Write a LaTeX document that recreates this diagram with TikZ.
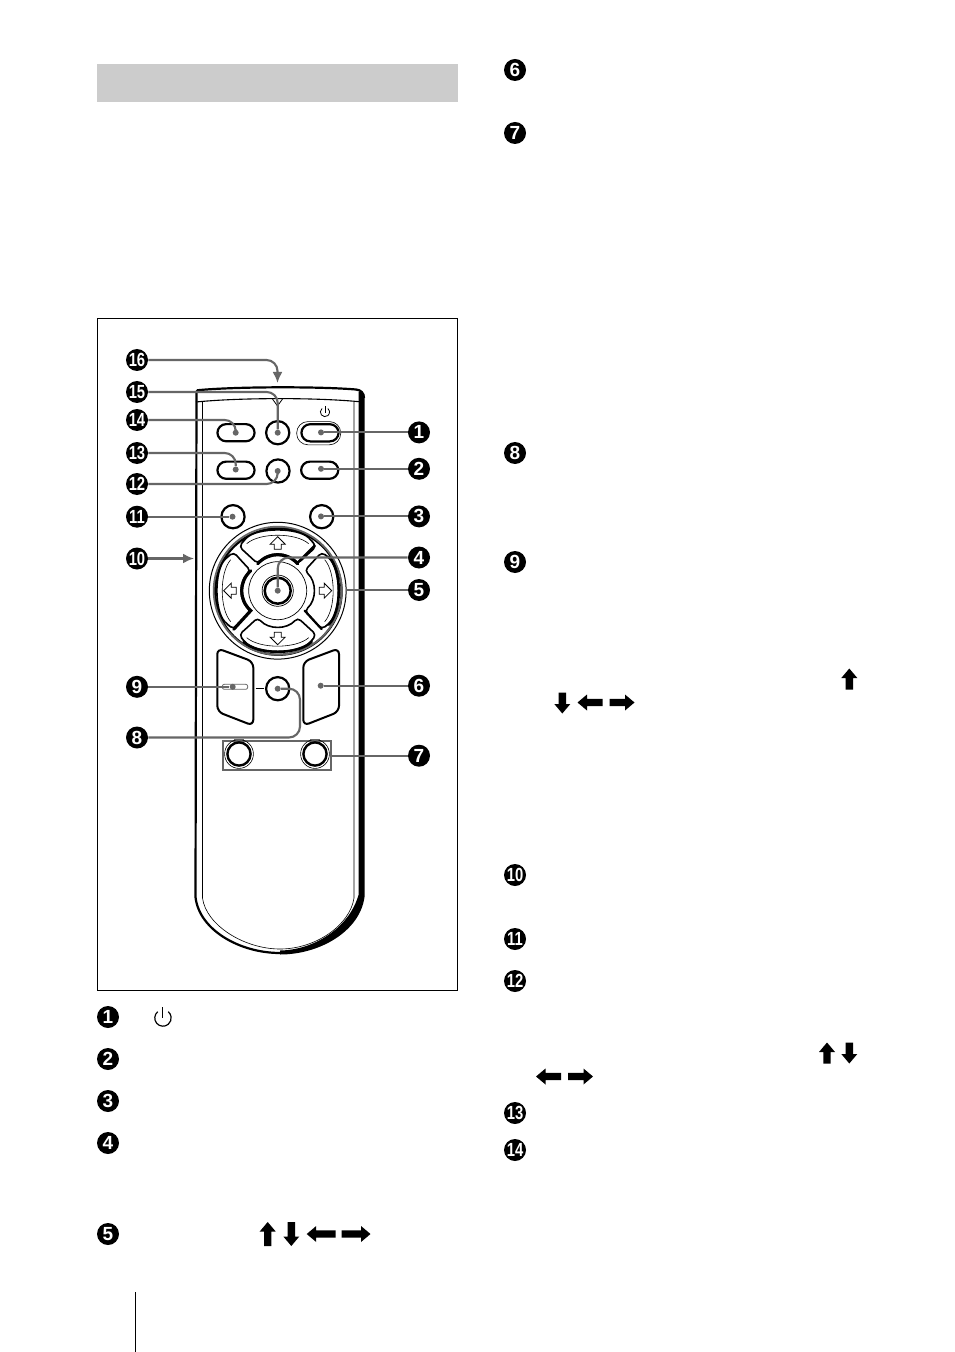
\documentclass[tikz,border=0pt]{standalone}
\usepackage{fontspec}
\setmainfont{Liberation Sans}
\usetikzlibrary{arrows.meta}
\definecolor{leadgray}{gray}{0.40}
\definecolor{bandgray}{gray}{0.80}
\tikzset{
  numc/.style={circle,fill=black,text=white,inner sep=0pt,minimum size=11pt,font=\fontsize{9.5}{9.5}\selectfont\bfseries},
  lead/.style={draw=leadgray,line width=1.05pt,rounded corners=5.5pt},
  leaddot/.style={circle,fill=leadgray,inner sep=0pt,minimum size=3pt},
  pillbtn/.style={draw=black,fill=white,line width=1.1pt,rounded corners=4.4pt,minimum width=18.6pt,minimum height=8.6pt,inner sep=0pt},
  roundbtn/.style={circle,draw=black,fill=white,line width=1.1pt,inner sep=0pt,minimum size=11.6pt},
  thinline/.style={draw=black,line width=0.3pt},
  bodyline/.style={draw=black,line width=1.1pt},
  hollowarr/.style={draw=black,line width=0.4pt,fill=white,line join=miter},
  dialbtn/.style={draw=black,fill=white,line width=0.8pt,rounded corners=2pt},
  rockerbtn/.style={draw=black,fill=white,line width=1pt,rounded corners=3pt},
}
\newcommand{\Nn}[1]{\scalebox{0.78}[1]{#1}}
\newcommand{\fatarrow}[4]{%
  \begin{scope}[shift={(#1,#2)},rotate=#3]
    \fill[black] (0,-#4/2) -- (8,-#4/2+9.5) -- (3.7,-#4/2+9.5) -- (3.7,#4/2) -- (-3.7,#4/2) -- (-3.7,-#4/2+9.5) -- (-8,-#4/2+9.5) -- cycle;
  \end{scope}}
\begin{document}
\begin{tikzpicture}[x=0.5pt,y=-0.5pt]
\useasboundingbox (0,0) rectangle (954,1352);
\fill[white] (0,0) rectangle (954,1352);
% page furniture
\node[fill=bandgray,minimum width=180.5pt,minimum height=19pt,inner sep=0pt,anchor=north west] (band) at (97,64) {};
\node[draw=black,line width=0.35pt,minimum width=180pt,minimum height=336.3pt,inner sep=0pt,anchor=north west] (frame) at (97.2,317.7) {};
\draw[black,line width=0.4pt] (135.5,1292) -- (135.5,1352);

% remote body
\fill[black] (358.5,392) -- (362,392) -- (364.5,397) -- (364.5,897) .. controls (360,931) and (320,954.5) .. (280,954.5) -- (280,950.5) .. controls (314,950) and (349,928) .. (358.5,895) -- cycle;
\draw[bodyline] (196.5,392) .. controls (197,390) and (198,390) .. (200,390) .. controls (240,386.5) and (320,386.5) .. (356,389.5) .. controls (361,390) and (364,393) .. (364,398);
\draw[bodyline] (196.5,391) -- (195.5,897) .. controls (199,930) and (240,953) .. (280,953);
\draw[black,line width=0.55pt] (196,402) .. controls (240,397.5) and (320,397.5) .. (362,402);
\draw[thinline] (202.5,402) -- (202.5,898) .. controls (206,925) and (244,949) .. (280,949) .. controls (316,949) and (350,925) .. (354,898) -- (354,402);
\draw[black,line width=0.4pt] (272.5,399) -- (277.5,406) -- (282.5,399);

% top buttons
\node[pillbtn] (b14) at (236,432.7) {};
\node[roundbtn] (b15) at (277.7,432.7) {};
\node[draw=black,line width=0.3pt,fill=white,rounded corners=5.6pt,minimum width=22pt,minimum height=11.6pt,inner sep=0pt] (b1o) at (318.7,433.2) {};
\node[pillbtn] (b1) at (320,432.8) {};
\node[pillbtn] (b13) at (236,470.2) {};
\node[roundbtn] (b12) at (278,471) {};
\node[pillbtn] (b2) at (319.7,470.2) {};
\node[roundbtn] (b11) at (233,516.7) {};
\node[roundbtn] (b3) at (321.7,516.7) {};
\draw[black,line width=0.4pt] (322,408.5) arc[start angle=130,end angle=410,radius=2.3pt];
\draw[black,line width=0.4pt] (325,406) -- (325,412.5);

% dial
\begin{scope}[shift={(277.7,590.7)}]
  \draw[black,line width=0.5pt] (0,0) circle[radius=34.2pt];
  \draw[black,line width=1.1pt] (0.7,0.9) circle[radius=31.6pt];
  \draw[leadgray,line width=0.9pt] (0,0) circle[radius=32pt];
  \foreach \a in {0,90,180,270}{
    \begin{scope}[rotate=\a]
      \draw[dialbtn] (29,-35.5) -- (20,-27) .. controls (9,-39) and (-9,-39) .. (-20,-27) -- (-38.5,-44) -- (-34,-50) .. controls (-20,-63.5) and (20,-63.5) .. (34,-50) -- (38.5,-44) -- cycle;
      \draw[thinline] (-31,-47) .. controls (-18,-58.3) and (18,-58.3) .. (31,-47);
      \draw[hollowarr] (0,-54) -- (7.5,-46.5) -- (3.5,-46.5) -- (3.5,-41.5) -- (-3.5,-41.5) -- (-3.5,-46.5) -- (-7.5,-46.5) -- cycle;
    \end{scope}}
  % heavy edges
  \draw[black,line width=1.6pt,line cap=round] (-20,-27) .. controls (-9,-39) and (9,-39) .. (20,-27);
  \draw[black,line width=1.6pt,line cap=round] (-27,-20) .. controls (-39,-9) and (-39,9) .. (-27,20) -- (-44,38.5);
  \draw[black,line width=1.3pt,line cap=round] (-34,51) .. controls (-20,64.5) and (20,64.5) .. (34,51);
  \draw[black,line width=1.3pt,line cap=round] (37,-45) -- (20,-28);
  \draw[black,line width=1.3pt,line cap=round] (51,34) .. controls (64.5,20) and (64.5,-20) .. (51,-34);
  \draw[black,line width=1.1pt,line cap=round] (44,38.5) -- (27,20);
  \node[circle,draw=black,line width=0.35pt,inner sep=0pt,minimum size=29pt] (dialmid) at (0,0) {};
  \node[circle,draw=black,line width=0.35pt,inner sep=0pt,minimum size=15.6pt] (dialring) at (0,0) {};
  \node[circle,draw=black,fill=white,line width=1.25pt,inner sep=0pt,minimum size=13pt] (b4) at (0,0) {};
\end{scope}

% rockers
\draw[rockerbtn] (217.3,680) -- (217.3,648.3) -- (253.3,661.7) -- (253.3,725.7) -- (217.3,711.7) -- cycle;
\draw[rockerbtn] (303.3,690) -- (303.3,661.7) -- (339,648.3) -- (339,711.7) -- (303.3,725.7) -- cycle;
\node[draw=leadgray,fill=white,line width=0.4pt,rounded corners=1pt,minimum width=12.7pt,minimum height=2.5pt,inner sep=0pt] (slot) at (235,686.8) {};
\draw[black,line width=0.75pt] (255.7,688.7) -- (264,688.7);
\node[roundbtn] (b8) at (277.7,688.7) {};

% box 7
\node[draw=leadgray,line width=1pt,minimum width=54pt,minimum height=14.7pt,inner sep=0pt] (box7) at (276.7,755.4) {};
\foreach \nm/\x in {b7a/239,b7b/315}{
  \node[circle,draw=black,line width=0.3pt,inner sep=0pt,minimum size=14.4pt] (\nm o) at (\x,754) {};
  \node[circle,draw=black,line width=1.2pt,inner sep=0pt,minimum size=11.6pt] (\nm) at (\x,754) {};
  \draw[leadgray,line width=0.3pt] (\x-5,739.2) -- (\x+5,739.2);
}

% number badges
\node[numc] (n16) at (137,360) {\Nn{16}};
\node[numc] (n15) at (137,392) {\Nn{15}};
\node[numc] (n14) at (137,420) {\Nn{14}};
\node[numc] (n13) at (137,453) {\Nn{13}};
\node[numc] (n12) at (137,484) {\Nn{12}};
\node[numc] (n11) at (137,516.7) {\Nn{11}};
\node[numc] (n10) at (137,558.5) {\Nn{10}};
\node[numc] (n9) at (137,686.8) {9};
\node[numc] (n8) at (137,737.5) {8};
\node[numc] (n1) at (419,432.4) {1};
\node[numc] (n2) at (419,468.8) {2};
\node[numc] (n3) at (419,516.4) {3};
\node[numc] (n4) at (419,557.5) {4};
\node[numc] (n5) at (419,590) {5};
\node[numc] (n6) at (419,685.7) {6};
\node[numc] (n7) at (419,755.7) {7};

% lead ends
\node[leaddot] (d15) at (277.7,432.7) {};
\node[leaddot] (d14) at (235.7,432.7) {};
\node[leaddot] (d13) at (235.7,469.5) {};
\node[leaddot] (d12) at (277.7,471) {};
\node[leaddot] (d11) at (232.5,516.7) {};
\node[leaddot] (d3) at (321,516.4) {};
\node[leaddot] (d1) at (321,432.4) {};
\node[leaddot] (d2) at (321,468.8) {};
\node[leaddot] (d4) at (277.7,590.7) {};
\node[leaddot] (d6) at (320.7,685.7) {};
\node[leaddot] (d9) at (232.7,686.8) {};
\node[leaddot] (d8) at (277.7,688.7) {};
\coordinate (t16) at (277.5,383);
\coordinate (t10) at (194,558.5);
\coordinate (e5) at (345.5,590);
\coordinate (e7) at (330.7,755.7);
\coordinate (c8a) at (300,737.5);
\coordinate (c8b) at (300,688.7);

% leads
\draw[lead,-{Latex[length=5.5pt,width=5pt]}] (n16) -| (t16);
\draw[lead] (n15) -| (d15);
\draw[lead] (n14) -| (d14);
\draw[lead] (n13) -| (d13);
\draw[lead] (n12) -| (d12);
\draw[lead] (n11) -- (d11);
\draw[lead,-{Latex[length=5.5pt,width=5pt]}] (n10) -- (t10);
\draw[lead] (n9) -- (d9);
\draw[lead] (n8) -- (c8a) -- (c8b) -- (d8);
\draw[lead] (n1) -- (d1);
\draw[lead] (n2) -- (d2);
\draw[lead] (n3) -- (d3);
\draw[lead] (n4) -| (d4);
\draw[lead] (n5) -- (e5);
\draw[lead] (n6) -- (d6);
\draw[lead] (n7) -- (e7);

% lower left list
\node[numc] (l1) at (108,1017) {1};
\node[numc] (l2) at (108,1059) {2};
\node[numc] (l3) at (108,1101) {3};
\node[numc] (l4) at (108,1143) {4};
\node[numc] (l5) at (108,1234) {5};
\draw[black,line width=0.6pt] (157.7,1011.7) arc[start angle=130,end angle=410,radius=4.1pt];
\draw[black,line width=0.6pt] (162.8,1007) -- (162.8,1018);
\fatarrow{267.7}{1234}{0}{24}
\fatarrow{291.3}{1234}{180}{24}
\fatarrow{321.2}{1234}{90}{29}
\fatarrow{356}{1234}{-90}{29}

% right column
\node[numc] (r6) at (515,70) {6};
\node[numc] (r7) at (515,133) {7};
\node[numc] (r8) at (515,453) {8};
\node[numc] (r9) at (515,562) {9};
\node[numc] (r10) at (515,875) {\Nn{10}};
\node[numc] (r11) at (515,939) {\Nn{11}};
\node[numc] (r12) at (515,981) {\Nn{12}};
\node[numc] (r13) at (515,1113) {\Nn{13}};
\node[numc] (r14) at (515,1150) {\Nn{14}};
\fatarrow{849.3}{679}{0}{21}
\fatarrow{562.3}{703}{180}{21}
\fatarrow{590}{702.5}{90}{25}
\fatarrow{622}{702.5}{-90}{25}
\fatarrow{827}{1053}{0}{21}
\fatarrow{849.3}{1053}{180}{21}
\fatarrow{548.5}{1076.5}{90}{25}
\fatarrow{580.5}{1076.5}{-90}{25}
\end{tikzpicture}
\end{document}
